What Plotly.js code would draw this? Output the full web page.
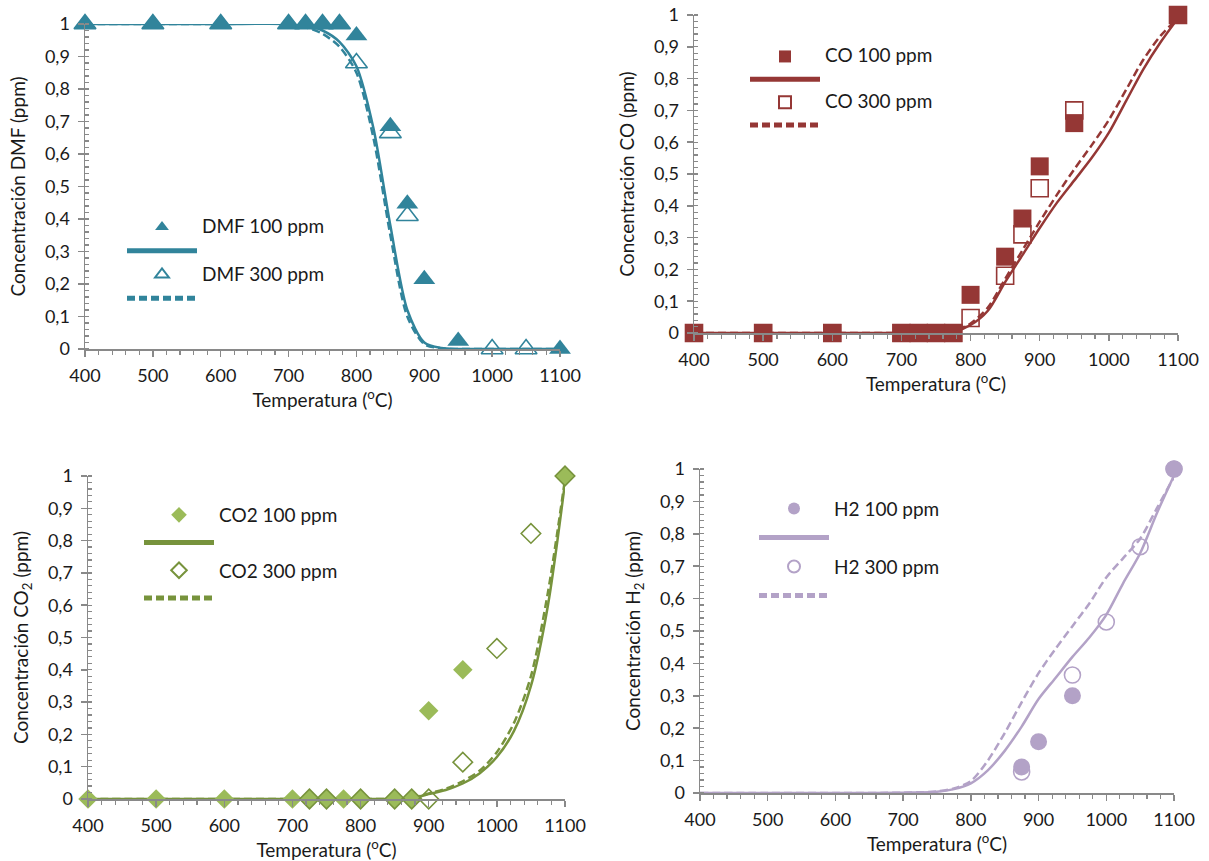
<!DOCTYPE html>
<html>
<head>
<meta charset="utf-8">
<script src="https://cdn.plot.ly/plotly-3.0.1.min.js"></script>
<style>html,body{margin:0;padding:0;background:#fff;}#chart{width:1209px;height:861px;}</style>
</head>
<body>
<div id="chart"></div>
<script>
// ---------- DATA ----------
const Y_TICKS = [0,0.1,0.2,0.3,0.4,0.5,0.6,0.7,0.8,0.9,1];
const Y_TICK_LABELS = ['0','0,1','0,2','0,3','0,4','0,5','0,6','0,7','0,8','0,9','1'];
const X_TICKS = [400,500,600,700,800,900,1000,1100];

// DMF
const T_DMF_100 = [400,500,600,700,725,750,775,800,850,875,900,950,1100];
const DMF_100 = [1,1,1,1,1,1,1,0.965,0.685,0.447,0.215,0.025,0];
const T_DMF_300 = [400,500,600,700,725,750,775,800,850,875,1000,1050];
const DMF_300 = [1,1,1,1,1,1,1,0.88,0.665,0.41,0,0];
const T_MODEL_DMF = [400,500,600,700,725,750,775,800,825,850,875,900,925,950,1000,1050,1100];
const DMF_MODEL_100 = [1,1,1,1,0.995,0.98,0.945,0.87,0.68,0.38,0.12,0.02,0.003,0,0,0,0];
const DMF_MODEL_300 = [1,1,1,1,0.99,0.97,0.93,0.85,0.65,0.35,0.1,0.015,0.002,0,0,0,0];

// CO
const T_CO_100 = [400,500,600,700,725,750,775,800,850,875,900,950,1100];
const CO_100 = [0,0,0,0,0,0,0,0.12,0.24,0.36,0.524,0.66,1];
const T_CO_300 = [400,500,600,700,725,750,775,800,850,875,900,950,1100];
const CO_300 = [0,0,0,0,0,0,0,0.047,0.18,0.31,0.455,0.70,1];
const T_MODEL_CO = [400,500,600,700,750,775,800,825,850,875,900,925,950,975,1000,1025,1050,1075,1100];
const CO_MODEL_100 = [0,0,0,0,0,0.003,0.025,0.07,0.16,0.245,0.33,0.41,0.48,0.55,0.63,0.73,0.83,0.915,0.99];
const CO_MODEL_300 = [0,0,0,0,0,0.004,0.03,0.08,0.17,0.26,0.35,0.435,0.515,0.59,0.67,0.765,0.86,0.935,0.99];

// CO2
const T_CO2_100 = [400,500,600,700,725,750,775,800,850,875,900,950,1100];
const CO2_100 = [0,0,0,0,0,0,0,0,0,0,0.273,0.40,1];
const T_CO2_300 = [725,750,800,850,875,900,950,1000,1050,1100];
const CO2_300 = [0,0,0,0,0,0,0.114,0.466,0.822,1];
const T_MODEL_CO2 = [400,500,600,700,800,850,875,900,925,950,975,1000,1025,1050,1075,1100];
const CO2_MODEL_100 = [0,0,0,0,0,0,0.003,0.015,0.028,0.048,0.08,0.13,0.21,0.35,0.6,0.98];
const CO2_MODEL_300 = [0,0,0,0,0,0,0.004,0.017,0.032,0.055,0.088,0.145,0.235,0.38,0.64,0.99];

// H2
const T_H2_100 = [875,900,950,1100];
const H2_100 = [0.08,0.158,0.30,1];
const T_H2_300 = [875,950,1000,1050,1100];
const H2_300 = [0.065,0.364,0.528,0.76,1];
const T_MODEL_H2 = [400,500,600,700,750,775,800,825,850,875,900,925,950,975,1000,1025,1050,1075,1100];
const H2_MODEL_100 = [0,0,0,0.001,0.004,0.012,0.03,0.07,0.13,0.205,0.29,0.355,0.42,0.48,0.55,0.648,0.74,0.865,0.98];
const H2_MODEL_300 = [0,0,0,0.001,0.005,0.014,0.037,0.10,0.185,0.28,0.37,0.445,0.515,0.585,0.665,0.725,0.785,0.88,0.975];

const LEGEND_NAMES = ['DMF 100 ppm','DMF 300 ppm','CO 100 ppm','CO 300 ppm','CO2 100 ppm','CO2 300 ppm','H2 100 ppm','H2 300 ppm'];

// ---------- STYLE ----------
const FONT = 'Lato, "Open Sans", sans-serif';
const C_DMF = '#31849B', C_CO = '#953735', C_CO2_F = '#9BBB59', C_CO2_D = '#77933C', C_H2 = '#B3A2C7';
const AX = '#898989';
const TXT = '#1a1a1a';

function lbl(s) { return '<span style="font-size:19px">' + s + '</span>'; }
function markers(x, y, name, symbol, size, color, lineColor, ax, leg, rank) {
  return {x, y, name: lbl(name), type:'scatter', mode:'markers', xaxis:'x'+ax, yaxis:'y'+ax,
    legend: leg, legendrank: rank, cliponaxis:false, hoverinfo:'skip',
    marker:{symbol, size, color, line:{color: lineColor, width: symbol.indexOf('open')>=0 ? 1.6 : 0}}};
}
function model(x, y, color, dash, ax, leg, rank) {
  return {x, y, name:' ', type:'scatter', mode:'lines', xaxis:'x'+ax, yaxis:'y'+ax,
    legend: leg, legendrank: rank, cliponaxis:false, hoverinfo:'skip',
    line:{color, width:2.5, dash, shape:'spline', smoothing:0.8}};
}
const DASH = '8px,4px';

const traces = [
  // DMF
  model(T_MODEL_DMF, DMF_MODEL_100, C_DMF, 'solid', '', 'legend', 2),
  model(T_MODEL_DMF, DMF_MODEL_300, C_DMF, DASH, '', 'legend', 4),
  markers(T_DMF_300, DMF_300, LEGEND_NAMES[1], 'triangle-up-open', 19, C_DMF, C_DMF, '', 'legend', 3),
  markers(T_DMF_100, DMF_100, LEGEND_NAMES[0], 'triangle-up', 19, C_DMF, C_DMF, '', 'legend', 1),
  // CO
  model(T_MODEL_CO, CO_MODEL_100, C_CO, 'solid', '2', 'legend2', 2),
  model(T_MODEL_CO, CO_MODEL_300, C_CO, DASH, '2', 'legend2', 4),
  markers(T_CO_300, CO_300, LEGEND_NAMES[3], 'square-open', 17, C_CO, C_CO, '2', 'legend2', 3),
  markers(T_CO_100, CO_100, LEGEND_NAMES[2], 'square', 18, C_CO, C_CO, '2', 'legend2', 1),
  // CO2
  model(T_MODEL_CO2, CO2_MODEL_100, C_CO2_D, 'solid', '3', 'legend3', 2),
  model(T_MODEL_CO2, CO2_MODEL_300, C_CO2_D, DASH, '3', 'legend3', 4),
  markers(T_CO2_100, CO2_100, LEGEND_NAMES[4], 'diamond', 15, C_CO2_F, C_CO2_F, '3', 'legend3', 1),
  markers(T_CO2_300, CO2_300, LEGEND_NAMES[5], 'diamond-open', 15, C_CO2_D, C_CO2_D, '3', 'legend3', 3),
  // H2
  model(T_MODEL_H2, H2_MODEL_100, C_H2, 'solid', '4', 'legend4', 2),
  model(T_MODEL_H2, H2_MODEL_300, C_H2, DASH, '4', 'legend4', 4),
  markers(T_H2_300, H2_300, LEGEND_NAMES[7], 'circle-open', 16, C_H2, C_H2, '4', 'legend4', 3),
  markers(T_H2_100, H2_100, LEGEND_NAMES[6], 'circle', 17, C_H2, C_H2, '4', 'legend4', 1)
];

function xax(domain, anchor) {
  return {domain, anchor, range:[400,1100], tickvals:X_TICKS, showline:true, linecolor:AX, linewidth:1.5,
    ticks:'outside', ticklen:6, tickwidth:1.5, tickcolor:AX, showgrid:false, zeroline:false, ticklabelstandoff:4,
    minor:{dtick:20, ticks:'outside', ticklen:4, tickwidth:1.2, tickcolor:AX, showgrid:false},
    tickfont:{family:FONT, size:18, color:TXT},
    title:{text:'Temperatura (<sup>o</sup>C)', font:{family:FONT, size:19, color:TXT}, standoff:2}};
}
function yax(domain, anchor, title) {
  return {domain, anchor, range:[0,1], tickvals:Y_TICKS, ticktext:Y_TICK_LABELS, showline:true, linecolor:AX, linewidth:1.5,
    ticks:'outside', ticklen:6, tickwidth:1.5, tickcolor:AX, showgrid:false, zeroline:false, ticklabelstandoff:4,
    minor:{dtick:0.02, ticks:'inside', ticklen:4, tickwidth:1.2, tickcolor:AX, showgrid:false},
    tickfont:{family:FONT, size:18, color:TXT},
    title:{text:title, font:{family:FONT, size:19, color:TXT}, standoff:14}};
}
function leg(x, y, size) {
  return {x, y, xanchor:'left', yanchor:'top', xref:'paper', yref:'paper', bgcolor:'rgba(0,0,0,0)',
    font:{family:FONT, size, color:TXT}, itemwidth:70, itemsizing:'constant', traceorder:'normal',
    itemclick:false, itemdoubleclick:false};
}

const layout = {
  width:1209, height:861, margin:{l:0, r:0, t:0, b:0}, paper_bgcolor:'#fff', plot_bgcolor:'#fff',
  showlegend:true, font:{family:FONT},
  xaxis: xax([85/1209, 560/1209], 'y'),
  yaxis: yax([1-349/861, 1-24/861], 'x', 'Concentración DMF (ppm)'),
  xaxis2: xax([694/1209, 1178/1209], 'y2'),
  yaxis2: yax([1-333/861, 1-15/861], 'x2', 'Concentración CO (ppm)'),
  xaxis3: xax([88/1209, 565/1209], 'y3'),
  yaxis3: yax([1-799/861, 1-476/861], 'x3', 'Concentración CO<sub>2</sub> (ppm)'),
  xaxis4: xax([700/1209, 1174/1209], 'y4'),
  yaxis4: yax([1-793/861, 1-469/861], 'x4', 'Concentración H<sub>2</sub> (ppm)'),
  legend: leg(122/1209, 1-210/861, 16),
  legend2: leg(745/1209, 1-40/861, 15.3),
  legend3: leg(139/1209, 1-496/861, 19),
  legend4: leg(754/1209, 1-489/861, 20)
};

Plotly.newPlot('chart', traces, layout, {staticPlot:true, displayModeBar:false});
</script>
</body>
</html>
